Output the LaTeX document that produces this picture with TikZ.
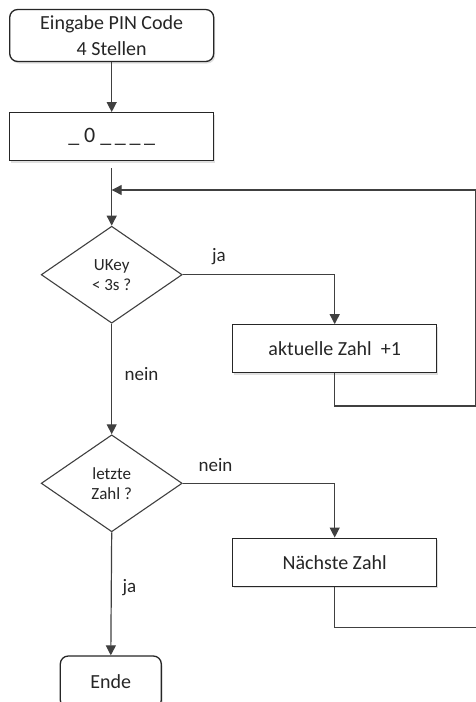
\documentclass[tikz,border=0pt]{standalone}
\usepackage{fontspec}
\setmainfont{Carlito}
\usetikzlibrary{shapes.geometric,arrows.meta,shadows}

\begin{document}
\begin{tikzpicture}[x=1pt,y=-1pt,
  line/.style={draw=black!75,line width=1.2pt},
  arr/.style={line,-{Triangle[length=10pt,width=10pt]}},
  box/.style={draw=black!85,line width=1.3pt,fill=white,minimum width=204pt,minimum height=48pt,
    inner sep=0pt,font=\fontsize{20}{26}\selectfont,align=center,text=black!85,
    drop shadow={shadow xshift=1.5pt,shadow yshift=-2pt,opacity=.25}},
  term/.style={box,rounded corners=8pt},
  dec/.style={diamond,draw=black!75,line width=1.1pt,fill=white,minimum width=141pt,minimum height=97pt,
    aspect=1.45,inner sep=0pt,font=\fontsize{17}{20}\selectfont,align=center,text=black!85},
  lbl/.style={font=\fontsize{19}{22}\selectfont,inner sep=0pt,text=black!85}]
  \useasboundingbox (0,0) rectangle (475,702);

  % Schritte
  \node[term,minimum height=52pt] (start) at (111.7,35.5) {Eingabe PIN Code\\4 Stellen};
  \node[box,font=\fontsize{22}{26}\selectfont] (code) at (111.7,136.7) {\_\ 0\ \_\,\_\,\_\,\_};
  \node[dec] (ukey) at (111.7,274.7) {UKey\\< 3s ?};
  \node[box] (incr) at (334.7,348.8) {aktuelle Zahl\ \ +1};
  \node[dec] (last) at (111.7,483.3) {letzte\\Zahl ?};
  \node[box] (next) at (334.7,562.2) {Nächste Zahl};
  \node[term,minimum width=101pt,minimum height=52pt] (end) at (110.8,682) {Ende};

  % Hilfspunkte
  \coordinate (split) at (111.7,168.3);
  \coordinate (join) at (111.7,190);
  \coordinate (back) at (475.6,406);
  \coordinate (back2) at (480,627.7);

  % Verbindungen
  \draw[arr] (start) -- (code);
  \draw[arr] (split) -- (ukey.north);
  \draw[arr] (ukey.east) -| (incr.north);
  \draw[arr] (incr.south) |- (back) |- (join);
  \draw[arr] (ukey.south) -- (last.north);
  \draw[arr] (last.east) -| (next.north);
  \draw[line] (next.south) |- (back2);
  \draw[arr] (last.south) -- (end.north);

  % Beschriftungen
  \node[lbl] (ja1) at (219,257) {ja};
  \node[lbl] (nein1) at (141.5,374) {nein};
  \node[lbl] (nein2) at (215.5,465) {nein};
  \node[lbl] (ja2) at (129.5,588) {ja};
\end{tikzpicture}
\end{document}
